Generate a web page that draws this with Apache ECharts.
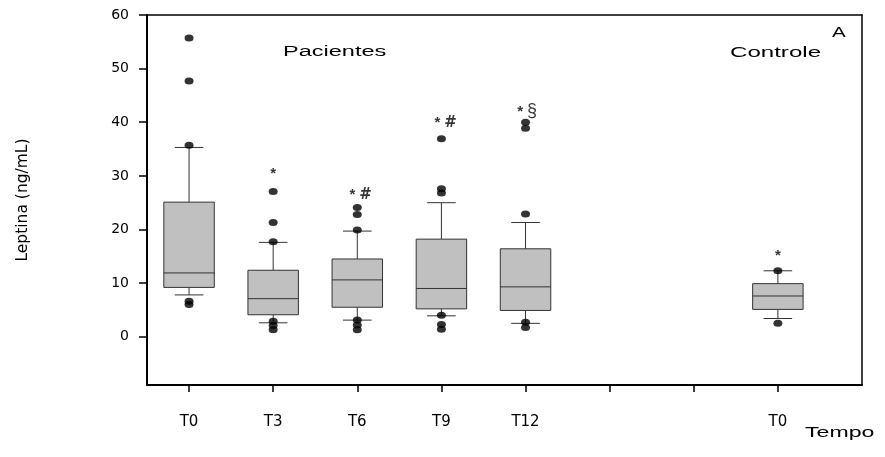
<!DOCTYPE html>
<html>
<head>
<meta charset="utf-8">
<script src="https://cdn.jsdelivr.net/npm/echarts@6/dist/echarts.min.js"></script>
<style>html,body{margin:0;padding:0;background:#fff}#c{width:885px;height:457px}</style>
</head>
<body>
<div id="c"></div>
<script>
// ---- data ----
const xTickValues = [1, 2, 3, 4, 5, 6, 7, 8];
const xLabelValues = [1, 2, 3, 4, 5, 8];
const xTickLabels = ['T0', 'T3', 'T6', 'T9', 'T12', 'T0'];
const yTickValues = [0, 10, 20, 30, 40, 50, 60];
const boxX = [1, 2, 3, 4, 5, 8];
const whiskerLow = [7.8, 2.6, 3.1, 3.9, 2.5, 3.4];
const q1 = [9.2, 4.1, 5.5, 5.2, 4.9, 5.1];
const median = [11.9, 7.1, 10.6, 9.0, 9.3, 7.6];
const q3 = [25.1, 12.4, 14.5, 18.2, 16.4, 9.9];
const whiskerHigh = [35.3, 17.6, 19.7, 25.0, 21.3, 12.3];
const outliers = [
  [1, 55.7], [1, 47.7], [1, 35.7], [1, 6.6], [1, 6.0],
  [2, 27.1], [2, 21.3], [2, 17.7], [2, 2.9], [2, 2.1], [2, 1.3],
  [3, 24.1], [3, 22.8], [3, 19.9], [3, 3.1], [3, 2.2], [3, 1.3],
  [4, 36.9], [4, 27.6], [4, 26.8], [4, 4.0], [4, 2.3], [4, 1.4],
  [5, 40.0], [5, 38.9], [5, 22.9], [5, 2.7], [5, 1.7],
  [8, 12.3], [8, 2.5]
];
const annotX = [2, 3.04, 4.05, 5.02, 8];
const annotY = [30.3, 26.5, 39.85, 42.0, 15.1];
const annotText = ['*', '* #', '* #', '* \u00A7', '*'];

// ---- chart ----
const boxData = boxX.map((x, i) => [x, whiskerLow[i], q1[i], median[i], q3[i], whiskerHigh[i]]);
const annotData = annotX.map((x, i) => [x, annotY[i], annotText[i]]);
const axisFont = 'DejaVu Sans';

function annotFormatter(p) {
  return String(p.value[2]).split(' ').map(function (t) {
    if (t === '*') return '{s|*}';
    if (t === '#') return '{h|#}';
    return '{g|' + t + '}';
  }).join('{sp| }');
}

const chart = echarts.init(document.getElementById('c'), null, {renderer: 'canvas'});
chart.setOption({
  animation: false,
  backgroundColor: '#fff',
  grid: {left: 147, right: 23, top: 15, bottom: 72, containLabel: false},
  xAxis: [{
    type: 'value', min: 0.5, max: 9, position: 'bottom',
    axisLine: {show: true, onZero: false, lineStyle: {color: '#000', width: 2}},
    axisTick: {show: true, customValues: xTickValues, length: 7, lineStyle: {color: '#000', width: 1.5}},
    axisLabel: {
      customValues: xLabelValues, margin: 30, color: '#000', fontFamily: axisFont, fontSize: 15,
      formatter: v => { const i = xLabelValues.indexOf(Math.round(v)); return i >= 0 ? xTickLabels[i] : ''; }
    },
    splitLine: {show: false}
  }, {
    type: 'value', min: 0.5, max: 9, position: 'top',
    axisLine: {show: true, onZero: false, lineStyle: {color: '#000', width: 1.5}},
    axisTick: {show: false}, axisLabel: {show: false}, splitLine: {show: false}
  }],
  yAxis: [{
    type: 'value', min: -9, max: 60, position: 'left',
    name: 'Leptina (ng/mL)', nameLocation: 'middle', nameGap: 116,
    nameTextStyle: {color: '#000', fontFamily: axisFont, fontSize: 15.5},
    axisLine: {show: true, onZero: false, lineStyle: {color: '#000', width: 2}},
    axisTick: {show: true, customValues: yTickValues, length: 8, lineStyle: {color: '#000', width: 1.5}},
    axisLabel: {customValues: yTickValues, margin: 18, color: '#000', fontFamily: axisFont, fontSize: 14},
    splitLine: {show: false}
  }, {
    type: 'value', min: -9, max: 60, position: 'right',
    axisLine: {show: true, onZero: false, lineStyle: {color: '#000', width: 1.5}},
    axisTick: {show: false}, axisLabel: {show: false}, splitLine: {show: false}
  }],
  series: [{
    type: 'custom',
    xAxisIndex: 0, yAxisIndex: 0,
    data: boxData,
    encode: {x: 0, y: [1, 2, 3, 4, 5]},
    z: 2,
    renderItem: function (params, api) {
      const x = api.value(0);
      const pLo = api.coord([x, api.value(1)]);
      const pQ1 = api.coord([x, api.value(2)]);
      const pMd = api.coord([x, api.value(3)]);
      const pQ3 = api.coord([x, api.value(4)]);
      const pHi = api.coord([x, api.value(5)]);
      const bw = api.size([0.6, 0])[0];
      const cw = api.size([0.34, 0])[0];
      const cx = pMd[0];
      const ls = {stroke: '#333', lineWidth: 1, fill: null};
      return {
        type: 'group',
        children: [
          {type: 'line', shape: {x1: cx, y1: pQ3[1], x2: cx, y2: pHi[1]}, style: ls},
          {type: 'line', shape: {x1: cx, y1: pQ1[1], x2: cx, y2: pLo[1]}, style: ls},
          {type: 'line', shape: {x1: cx - cw / 2, y1: pHi[1], x2: cx + cw / 2, y2: pHi[1]}, style: ls},
          {type: 'line', shape: {x1: cx - cw / 2, y1: pLo[1], x2: cx + cw / 2, y2: pLo[1]}, style: ls},
          {type: 'rect', shape: {x: cx - bw / 2, y: pQ3[1], width: bw, height: pQ1[1] - pQ3[1]},
           style: {fill: '#c0c0c0', stroke: '#333', lineWidth: 1}},
          {type: 'line', shape: {x1: cx - bw / 2, y1: pMd[1], x2: cx + bw / 2, y2: pMd[1]}, style: ls}
        ]
      };
    }
  }, {
    type: 'scatter',
    xAxisIndex: 0, yAxisIndex: 0,
    data: outliers,
    symbol: 'circle', symbolSize: [9, 7],
    itemStyle: {color: '#000'},
    z: 5
  }, {
    type: 'scatter',
    xAxisIndex: 0, yAxisIndex: 0,
    data: annotData,
    symbolSize: 0,
    z: 6,
    label: {
      show: true, position: 'inside', color: '#000',
      fontFamily: 'Liberation Sans', fontSize: 16,
      formatter: annotFormatter,
      rich: {
        s: {fontFamily: 'Liberation Sans', fontWeight: 'bold', fontSize: 15, color: '#000', verticalAlign: 'middle'},
        h: {fontFamily: 'DejaVu Sans', fontWeight: 'bold', fontSize: 15, color: '#000', verticalAlign: 'middle'},
        g: {fontFamily: 'Liberation Sans', fontSize: 18, color: '#000', verticalAlign: 'middle'},
        sp: {fontFamily: 'Liberation Sans', fontSize: 14, color: '#000', verticalAlign: 'middle'}
      }
    }
  }],
  graphic: [
    {type: 'text', x: 283, y: 52, scaleX: 1.68, style: {text: 'Pacientes', fontFamily: 'Liberation Sans', fontSize: 14, fill: '#000', align: 'left', verticalAlign: 'middle'}},
    {type: 'text', x: 730, y: 53, scaleX: 1.72, style: {text: 'Controle', fontFamily: 'Liberation Sans', fontSize: 14, fill: '#000', align: 'left', verticalAlign: 'middle'}},
    {type: 'text', x: 832, y: 33, scaleX: 1.47, style: {text: 'A', fontFamily: 'Liberation Sans', fontSize: 14, fill: '#000', align: 'left', verticalAlign: 'middle'}},
    {type: 'text', x: 805, y: 433, scaleX: 1.65, style: {text: 'Tempo', fontFamily: 'Liberation Sans', fontSize: 14, fill: '#000', align: 'left', verticalAlign: 'middle'}}
  ]
});
</script>
</body>
</html>
